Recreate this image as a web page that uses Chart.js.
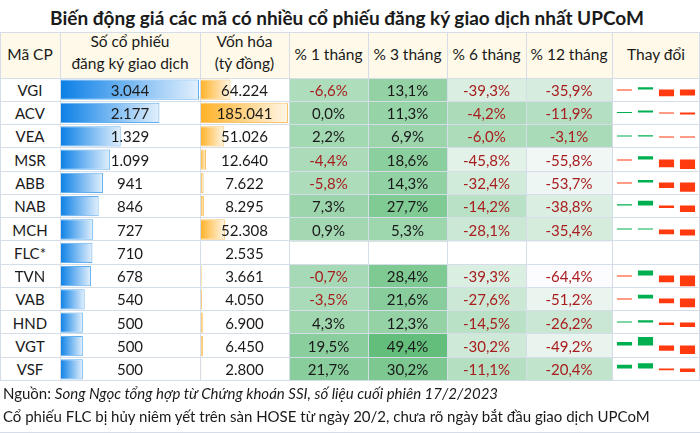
<!DOCTYPE html>
<html><head><meta charset="utf-8">
<script src="https://cdn.jsdelivr.net/npm/chart.js@4.4.1/dist/chart.umd.min.js"></script>
<style>
body{margin:0;width:700px;height:433px;overflow:hidden;background:#fff;font-family:Lato,'Noto Sans',sans-serif;color:#1a1a1a;position:relative}
.t{position:absolute;white-space:nowrap;line-height:1;z-index:5}
.cv{position:absolute;z-index:1}
.ln{position:absolute;background:#d5dde9;z-index:3}
</style></head><body>
<script>
// ---------- DATA ----------
const tickers   = ['VGI','ACV','VEA','MSR','ABB','NAB','MCH','FLC*','TVN','VAB','HND','VGT','VSF'];
const shares    = [3044, 2177, 1329, 1099, 941, 846, 727, 710, 678, 540, 500, 500, 500];      // triệu cp
const marketCap = [64224, 185041, 51026, 12640, 7622, 8295, 52308, 2535, 3661, 4050, 6900, 6450, 2800]; // tỷ đồng
const chg1m  = [-6.6, 0.0, 2.2, -4.4, -5.8, 7.3, 0.9, null, -0.7, -3.5, 4.3, 19.5, 21.7];
const chg3m  = [13.1, 11.3, 6.9, 18.6, 14.3, 27.7, 5.3, null, 28.4, 21.6, 12.3, 49.4, 30.2];
const chg6m  = [-39.3, -4.2, -6.0, -45.8, -32.4, -14.2, -28.1, null, -39.3, -27.6, -14.5, -30.2, -11.1];
const chg12m = [-35.9, -11.9, -3.1, -55.8, -53.7, -38.8, -35.4, null, -64.4, -51.2, -26.2, -49.2, -20.4];
const periodLabels = ['% 1 tháng','% 3 tháng','% 6 tháng','% 12 tháng'];
const titleText = 'Biến động giá các mã có nhiều cổ phiếu đăng ký giao dịch nhất UPCoM';
const sourceLabel = 'Nguồn: ';
const sourceText = 'Song Ngọc tổng hợp từ Chứng khoán SSI, số liệu cuối phiên 17/2/2023';
const noteText = 'Cổ phiếu FLC bị hủy niêm yết trên sàn HOSE từ ngày 20/2, chưa rõ ngày bắt đầu giao dịch UPCoM';

// ---------- LAYOUT ----------
const colEdges = [0,60,200,289,368,447,526,612,700];
const HEAD_TOP = 32, TABLE_TOP = 78, TABLE_BOTTOM = 380.5;
const ROWH = (TABLE_BOTTOM - TABLE_TOP) / tickers.length;
const periods = [chg1m, chg3m, chg6m, chg12m];
const allPct = periods.flat().filter(v => v !== null);
const pctMin = Math.min(...allPct), pctMax = Math.max(...allPct);

function fmtInt(n){ return String(n).replace(/\B(?=(\d{3})+(?!\d))/g,'.'); }
function fmtPct(v){ return v.toFixed(1).replace('.',',') + '%'; }

function el(tag, cls, css){ const d=document.createElement(tag); if(cls) d.className=cls; Object.assign(d.style, css||{}); document.body.appendChild(d); return d; }
function txt(s, cx, cy, o={}){
  const d = el('div','t',{left:cx+'px',top:cy+'px',fontSize:(o.size||15)+'px',transform:'translate(-50%,-50%)'});
  if(o.bold) d.style.fontWeight='700';
  if(o.color) d.style.color=o.color;
  d.textContent = s; return d;
}
function hline(y,x0,x1){ el('div','ln',{left:x0+'px',top:(y-0.5)+'px',width:(x1-x0)+'px',height:'1px'}); }
function vline(x,y0,y1){ el('div','ln',{left:(x-0.5)+'px',top:y0+'px',width:'1px',height:(y1-y0)+'px'}); }
function canvasAt(l,t,w,h){ const c=el('canvas','cv',{left:l+'px',top:t+'px',width:w+'px',height:h+'px'}); c.width=w; c.height=h; return c; }

// header background
el('div','',{position:'absolute',left:'0',top:HEAD_TOP+'px',width:'700px',height:(TABLE_TOP-HEAD_TOP)+'px',background:'#fef9e8',zIndex:0});

// ---------- CHARTS ----------
const baseOpts = {
  indexAxis:'y', responsive:false, animation:false, events:[],
  layout:{padding:0},
  plugins:{legend:{display:false},tooltip:{enabled:false}},
};
function gradFill(c0,c1){
  return (ctx)=>{
    const ch=ctx.chart;
    if(!ch.chartArea || ctx.type!=='data' || !ch.scales.x) return c0;
    const xs=ch.scales.x;
    const x0=xs.getPixelForValue(0), x1=xs.getPixelForValue(ctx.raw);
    if(x1-x0<2) return c0;
    const g=ch.ctx.createLinearGradient(x0,0,x1,0);
    g.addColorStop(0,c0); g.addColorStop(1,c1); return g;
  };
}
function dataBar(left,width,values,c0,c1,border){
  const cv=canvasAt(left,TABLE_TOP,width,Math.round(TABLE_BOTTOM-TABLE_TOP));
  new Chart(cv,{type:'bar',
    data:{labels:tickers,datasets:[{data:values,backgroundColor:gradFill(c0,c1),borderColor:border,borderWidth:1,borderSkipped:false,barPercentage:0.87,categoryPercentage:1}]},
    options:{...baseOpts,scales:{x:{display:false,min:0,max:Math.max(...values)},y:{display:false}}}});
}
dataBar(60,139,shares,'#0a7fe6','#e2f0fd','#62aff0');
dataBar(200,88,marketCap,'#ffb126','#fff6e6','#f9c56c');

// heat-map cells
function mix(a,b,t){ return Math.round(a+(b-a)*t); }
function heat(v){ const t=(v-pctMin)/(pctMax-pctMin); return `rgb(${mix(252,99,t)},${mix(252,190,t)},${mix(255,123,t)})`; }
periods.forEach((vals,k)=>{
  const l=colEdges[k+3], w=colEdges[k+4]-l;
  const cv=canvasAt(l,TABLE_TOP,w,Math.round(TABLE_BOTTOM-TABLE_TOP));
  new Chart(cv,{type:'bar',
    data:{labels:tickers,datasets:[{data:vals.map(v=>v===null?null:[0,1]),
      backgroundColor:(ctx)=>{const v=vals[ctx.dataIndex]; return v===null?'#fff':heat(v);},
      borderWidth:0,barPercentage:1,categoryPercentage:1}]},
    options:{...baseOpts,scales:{x:{display:false,min:0,max:1},y:{display:false}}}});
});

// sparklines (shared axis across rows)
tickers.forEach((tk,i)=>{
  const vals=periods.map(p=>p[i]);
  if(vals.every(v=>v===null)) return;
  const top=Math.round(TABLE_TOP+i*ROWH);
  const cv=canvasAt(612,top,88,23);
  new Chart(cv,{type:'bar',
    data:{labels:periodLabels,datasets:[{data:vals,
      backgroundColor:vals.map(v=>v>=0?'#00b050':'#ff3a0f'),
      borderWidth:0,barPercentage:0.72,categoryPercentage:1,minBarLength:1}]},
    options:{responsive:false,animation:false,events:[],
      layout:{padding:{top:3,bottom:0.5,left:2,right:2}},
      plugins:{legend:{display:false},tooltip:{enabled:false}},
      scales:{x:{display:false},y:{display:false,min:pctMin,max:pctMax}}}});
});

// ---------- GRID ----------
hline(HEAD_TOP,0,700); hline(TABLE_TOP,0,700);
for(let i=1;i<=tickers.length;i++) hline(TABLE_TOP+i*ROWH,0,700);
colEdges.forEach((x,j)=>{ vline(j===8?699.5:(j===0?0.5:x),HEAD_TOP,TABLE_BOTTOM); });
hline(432.5,0,700);

// ---------- TEXT ----------
txt(titleText,347,16.5,{size:19,bold:true});
const colC = j => (colEdges[j]+colEdges[j+1])/2;
const HS = 15.5;
txt('Mã CP',colC(0),55,{size:HS});
txt('Số cổ phiếu',colC(1),42,{size:HS});
txt('đăng ký giao dịch',colC(1),64,{size:HS});
txt('Vốn hóa',colC(2),42,{size:HS});
txt('(tỷ đồng)',colC(2),64,{size:HS});
periodLabels.forEach((p,k)=>txt(p,colC(k+3),55,{size:HS}));
txt('Thay đổi',colC(7),55,{size:HS});

tickers.forEach((tk,i)=>{
  const cy=TABLE_TOP+(i+0.5)*ROWH+0.3;
  txt(tk,colC(0),cy);
  txt(fmtInt(shares[i]),colC(1),cy);
  txt(fmtInt(marketCap[i]),colC(2),cy);
  periods.forEach((vals,k)=>{
    const v=vals[i]; if(v===null) return;
    txt(fmtPct(v),colC(k+3),cy,{color:v<0?'#a81e1e':'#1a1a1a'});
  });
});

const f1 = el('div','t',{left:'3px',top:'393px',fontSize:'15px',transform:'translateY(-50%)'});
f1.appendChild(document.createTextNode(sourceLabel));
const it=document.createElement('i'); it.textContent=sourceText; f1.appendChild(it);
const f2 = el('div','t',{left:'3px',top:'416px',fontSize:'15px',transform:'translateY(-50%)'});
f2.textContent = noteText;
</script>
</body></html>
